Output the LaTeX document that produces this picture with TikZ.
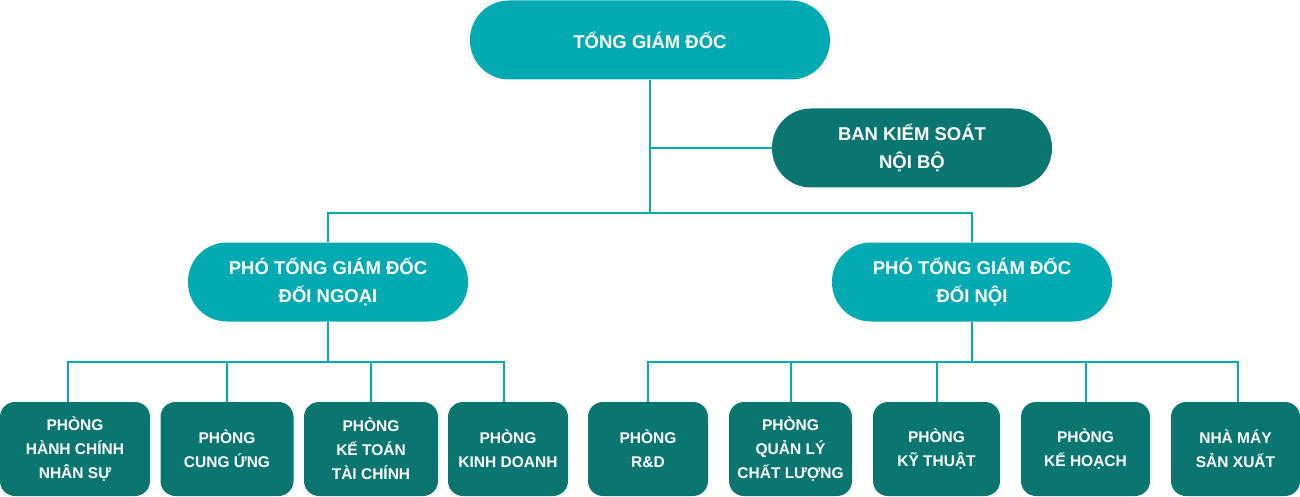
\documentclass[tikz,border=0pt]{standalone}
\usepackage{fontspec}
\setmainfont{Liberation Sans}
\usetikzlibrary{positioning,calc}

\definecolor{tealLight}{HTML}{04AAB2}
\definecolor{tealDark}{HTML}{0B7670}

\tikzset{
	lightbox/.style={fill=tealLight, text=white, rounded corners=39pt, minimum height=79pt, align=center, font=\fontsize{18.5}{28}\selectfont\bfseries, inner sep=0pt},
	darkbox/.style={lightbox, fill=tealDark},
	deptbox/.style={fill=tealDark, text=white, rounded corners=15pt, minimum height=94pt, align=center, font=\fontsize{15.5}{24}\selectfont\bfseries, inner sep=0pt},
	link/.style={draw=tealLight, line width=2pt}
}

\begin{document}
\begin{tikzpicture}[x=1pt,y=-1pt]
				\useasboundingbox (0,0) rectangle (1300,497);
				% top levels
				\node[lightbox, minimum width=360pt] (tgd) at (650,40) {TỔNG GIÁM ĐỐC};
				\node[darkbox, minimum width=280pt] (bks) at (912,148) {BAN KIỂM SOÁT\\NỘI BỘ};
				\node[lightbox, minimum width=280pt] (pngoai) at (328,282) {PHÓ TỔNG GIÁM ĐỐC\\ĐỐI NGOẠI};
				\node[lightbox, minimum width=280pt] (pnoi) at (972,282) {PHÓ TỔNG GIÁM ĐỐC\\ĐỐI NỘI};
				% phong ban
				\node[deptbox, minimum width=150pt] (hcns) at (75,449) {PHÒNG\\HÀNH CHÍNH\\NHÂN SỰ};
				\node[deptbox, minimum width=133pt] (cu) at (227,449) {PHÒNG\\CUNG ỨNG};
				\node[deptbox, minimum width=134pt] (ktc) at (371,449) {PHÒNG\\KẾ TOÁN\\TÀI CHÍNH};
				\node[deptbox, minimum width=120pt] (kd) at (508,449) {PHÒNG\\KINH DOANH};
				\node[deptbox, minimum width=120pt] (rd) at (648,449) {PHÒNG\\R\&D};
				\node[deptbox, minimum width=123pt] (qlcl) at (790.5,449) {PHÒNG\\QUẢN LÝ\\CHẤT LƯỢNG};
				\node[deptbox, minimum width=127pt] (kt) at (936.5,449) {PHÒNG\\KỸ THUẬT};
				\node[deptbox, minimum width=129pt] (kh) at (1085.5,449) {PHÒNG\\KẾ HOẠCH};
				\node[deptbox, minimum width=129pt] (nm) at (1235.5,449) {NHÀ MÁY\\SẢN XUẤT};
				% connectors
				\coordinate (split) at (650,213);
				\draw[link] (tgd.south) -- (split);
				\draw[link] (tgd.south |- bks.west) -- (bks.west);
				\draw[link] (pngoai.north) |- (split) -| (pnoi.north);
				\coordinate (ngoaiBus) at (328,362);
				\coordinate (noiBus) at (972,362);
				\draw[link] (pngoai.south) -- (ngoaiBus);
				\draw[link] (pnoi.south) -- (noiBus);
				\draw[link] (ngoaiBus) -| ([xshift=-7pt]hcns.north);
				\draw[link] (ngoaiBus) -| ([xshift=-4pt]kd.north);
				\foreach \d in {cu,ktc} \draw[link] (ngoaiBus) -| (\d.north);
				\foreach \d in {rd,qlcl,kt,kh} \draw[link] (noiBus) -| (\d.north);
				\draw[link] (noiBus) -| ([xshift=2.5pt]nm.north);
			\end{tikzpicture}
\end{document}
